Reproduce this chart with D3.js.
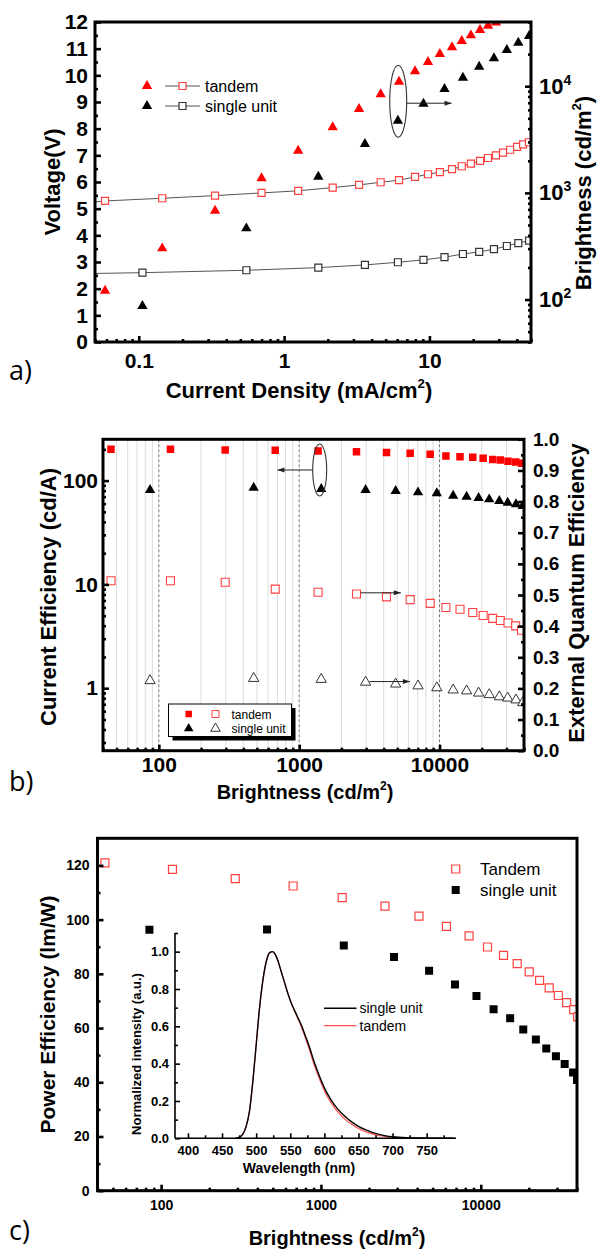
<!DOCTYPE html>
<html>
<head>
<meta charset="utf-8">
<script src="https://cdn.jsdelivr.net/npm/d3@7"></script>
<style>
  body { margin: 0; background: #fff; }
</style>
</head>
<body>
<div id="chart-area"></div>
<script>
// ---------- panel a) : voltage / brightness vs current density ----------
const aTandemJ = [0.0586, 0.145, 0.335, 0.70, 1.25, 2.16, 3.28, 4.62, 6.18, 7.96, 9.78, 11.8,
    14.3, 16.7, 19.3, 22.3, 25.3, 28.7, 32.1, 35.9, 40.1, 44.1, 48.4];
const aTandemV = [5.29, 5.39, 5.49, 5.59, 5.67, 5.79, 5.89, 5.99, 6.07, 6.19, 6.29, 6.37,
    6.48, 6.59, 6.69, 6.79, 6.90, 7.00, 7.10, 7.21, 7.32, 7.41, 7.49];
// brightness of the tandem, only for the first points (the rest leave the plot)
const aTandemL = [121, 302, 681, 1370, 2485, 4120, 6110, 8400, 11020, 13800, 16860, 20050,
    23170, 26550, 30000, 33650, 36900, 39500];
const aSingleJ = [0.106, 0.55, 1.72, 3.6, 6.07, 9.1, 12.7, 17, 22, 27.8, 34.1, 40.9, 48.5];
const aSingleV = [2.60, 2.69, 2.79, 2.89, 2.99, 3.08, 3.18, 3.30, 3.38, 3.48, 3.60, 3.71, 3.80];
const aSingleL = [87, 465, 1419, 2872, 4750, 6860, 9420, 12020, 15240, 18270, 21830, 25600, 29570];
const aStartJ = 0.05, aTandemV0 = 5.25, aSingleV0 = 2.57;
const aVoltTicks = [0, 1, 2, 3, 4, 5, 6, 7, 8, 9, 10, 11, 12];
const aJTicks = [0.1, 1, 10];
const aLTicks = [100, 1000, 10000];

// ---------- panel b) : efficiencies vs brightness ----------
const bTandemL = [45.6, 121, 297, 675, 1364, 2561, 4190, 6180, 8580, 11110, 14000, 17260,
    20460, 23940, 27120, 30780, 34900, 38400];
const bTandemCE = [200, 200, 197, 196, 193, 190, 187, 183, 179, 173, 170, 168, 164, 160, 158, 154, 151, 147];
const bTandemEQE = [0.546, 0.546, 0.541, 0.519, 0.509, 0.503, 0.494, 0.485, 0.473, 0.460, 0.454,
    0.444, 0.434, 0.425, 0.418, 0.410, 0.401, 0.387];
const bSingleL = [86.6, 474, 1436, 2973, 4870, 7030, 9570, 12510, 15600, 18990, 22600, 26680,
    30600, 35070, 39150];
const bSingleCE = [81.2, 85.5, 83, 81.2, 79.4, 77.1, 75.5, 71.6, 70, 68, 66, 63.6, 61.3, 59.1, 56.9];
const bSingleEQE = [0.225, 0.232, 0.229, 0.220, 0.214, 0.208, 0.202, 0.195, 0.192, 0.185, 0.180,
    0.173, 0.169, 0.163, 0.154];
const bCETicks = [1, 10, 100];
const bEQETicks = [0, 0.1, 0.2, 0.3, 0.4, 0.5, 0.6, 0.7, 0.8, 0.9, 1.0];
const bLTicks = [100, 1000, 10000];

// ---------- panel c) : power efficiency + EL spectra inset ----------
const cTandemL = [44.5, 117.8, 291, 670, 1359, 2514, 4104, 6100, 8450, 11020, 13880, 16900,
    20100, 23340, 26800, 30550, 34450, 38150, 40400];
const cTandemPE = [120.9, 118.5, 115.1, 112.4, 108.1, 105.0, 101.3, 97.5, 94.0, 89.9, 86.8, 83.8,
    80.7, 77.6, 74.8, 72.0, 69.4, 66.8, 64.1];
const cSingleL = [84.5, 460, 1390, 2865, 4750, 6900, 9400, 12030, 15270, 18450, 22120, 25700,
    29530, 33500, 37800, 40000];
const cSinglePE = [96.3, 96.4, 90.5, 86.2, 81.1, 76.1, 71.8, 66.9, 63.6, 59.5, 55.8, 52.5,
    49.6, 46.7, 43.6, 40.8];
const cPETicks = [0, 20, 40, 60, 80, 100, 120];
const cLTicks = [100, 1000, 10000];

const specWl = [470, 475, 480, 485, 490, 495, 500, 505, 510, 515, 520, 524, 528, 532, 537, 542,
    547, 552, 557, 562, 567, 572, 578, 585, 592, 600, 610, 620, 630, 640, 650, 660, 670, 680,
    690, 700, 720, 750, 790];
const specSingle = [0, 0.005, 0.02, 0.06, 0.14, 0.30, 0.50, 0.70, 0.85, 0.95, 0.995, 1.0, 0.985,
    0.95, 0.89, 0.83, 0.77, 0.72, 0.68, 0.64, 0.60, 0.55, 0.49, 0.41, 0.34, 0.27, 0.205, 0.155,
    0.118, 0.088, 0.064, 0.046, 0.032, 0.021, 0.013, 0.008, 0.003, 0.001, 0];
const specTandem = [0, 0.005, 0.02, 0.06, 0.14, 0.30, 0.50, 0.70, 0.85, 0.95, 0.995, 1.0, 0.985,
    0.95, 0.89, 0.83, 0.77, 0.72, 0.675, 0.635, 0.59, 0.54, 0.475, 0.395, 0.325, 0.255, 0.19, 0.14,
    0.103, 0.075, 0.052, 0.036, 0.024, 0.015, 0.009, 0.005, 0.002, 0.0005, 0];
const specWlTicks = [400, 450, 500, 550, 600, 650, 700, 750];
const specITicks = [0, 0.2, 0.4, 0.6, 0.8, 1.0];

// ---------------------------------------------------------------------
const FONT = "'Liberation Sans', Arial, sans-serif";
const RED = '#ff0000';
const PINK = '#ff4040';

const svg = d3.select('#chart-area')
    .append('svg')
    .attr('width', 600)
    .attr('height', 1250)
    .style('font-family', FONT);

const defs = svg.append('defs');
defs.append('marker')
    .attr('id', 'arrow')
    .attr('viewBox', '0 0 10 10')
    .attr('refX', 10).attr('refY', 5)
    .attr('markerWidth', 9).attr('markerHeight', 7)
    .attr('markerUnits', 'userSpaceOnUse')
    .attr('orient', 'auto')
    .append('path').attr('d', 'M0,1.5 L10,5 L0,8.5 Z').attr('fill', '#222');

function logMinor(lo, hi) {
    const out = [];
    for (let e = Math.floor(Math.log10(lo)); e <= Math.ceil(Math.log10(hi)); e++) {
        for (let k = 2; k <= 9; k++) {
            const v = +(k * Math.pow(10, e)).toPrecision(6);
            if (v >= lo * 0.999 && v <= hi * 1.001) out.push(v);
        }
    }
    return out;
}

// inward ticks, major + minor
function drawAxis(g, axisFn, scale, o) {
    const a = axisFn(scale)
        .tickValues(o.ticks)
        .tickSizeInner(-(o.len || 6))
        .tickSizeOuter(0)
        .tickPadding(o.pad)
        .tickFormat(o.fmt || (d => d));
    const ga = g.append('g').attr('transform', o.tr || null).call(a);
    ga.select('.domain').remove();
    ga.selectAll('.tick line').attr('stroke', '#000').attr('stroke-width', o.tw || 2.6);
    ga.selectAll('.tick text')
        .attr('font-family', FONT)
        .attr('font-weight', 'bold')
        .attr('font-size', o.fs)
        .attr('fill', '#000');
    if (o.minor) {
        const m = axisFn(scale).tickValues(o.minor).tickSizeInner(-(o.mlen || 3))
            .tickSizeOuter(0).tickFormat('');
        const gm = g.append('g').attr('transform', o.tr || null).call(m);
        gm.select('.domain').remove();
        gm.selectAll('.tick line').attr('stroke', '#000').attr('stroke-width', o.mtw || 2.6);
    }
    return ga;
}

function supText(sel, before, sup, after, fs) {
    sel.append('tspan').text(before);
    sel.append('tspan').attr('font-size', fs * 0.6).attr('dy', -fs * 0.45).text(sup);
    sel.append('tspan').attr('dy', fs * 0.45).text(after);
}

function clipFor(id, x0, y0, x1, y1) {
    defs.append('clipPath').attr('id', id)
        .append('rect').attr('x', x0).attr('y', y0).attr('width', x1 - x0).attr('height', y1 - y0);
    return `url(#${id})`;
}

const sqPath = s => `M${-s / 2},${-s / 2}h${s}v${s}h${-s}Z`;
const triPath = d3.symbol(d3.symbolTriangle, 46)();
const triPathSmall = d3.symbol(d3.symbolTriangle, 40)();

// ===================== panel a =====================
{
    const L = 95, R = 531, T = 22, B = 342;
    const x = d3.scaleLog().domain([0.05, 50]).range([L, R]);
    const y = d3.scaleLinear().domain([0, 12]).range([B, T]);
    const y2 = d3.scaleLog().domain([40, 40000]).range([B, T]);
    const g = svg.append('g');
    const data = g.append('g').attr('clip-path', clipFor('clipA', L, T, R, B));

    const lineV = d3.line().x(d => x(d[0])).y(d => y(d[1]));
    const tandemPts = [[aStartJ, aTandemV0]].concat(aTandemJ.map((j, i) => [j, aTandemV[i]]));
    const singlePts = [[aStartJ, aSingleV0]].concat(aSingleJ.map((j, i) => [j, aSingleV[i]]));
    data.append('path').attr('d', lineV(tandemPts)).attr('fill', 'none').attr('stroke', '#555').attr('stroke-width', 1);
    data.append('path').attr('d', lineV(singlePts)).attr('fill', 'none').attr('stroke', '#555').attr('stroke-width', 1);

    data.selectAll('.ts').data(aTandemJ).enter().append('path')
        .attr('d', sqPath(7))
        .attr('transform', (d, i) => `translate(${x(d)},${y(aTandemV[i])})`)
        .attr('fill', '#fff').attr('stroke', PINK).attr('stroke-width', 1.2);
    data.selectAll('.ss').data(aSingleJ).enter().append('path')
        .attr('d', sqPath(7))
        .attr('transform', (d, i) => `translate(${x(d)},${y(aSingleV[i])})`)
        .attr('fill', '#fff').attr('stroke', '#333').attr('stroke-width', 1.2);

    data.selectAll('.tt').data(aTandemL).enter().append('path')
        .attr('d', triPath)
        .attr('transform', (d, i) => `translate(${x(aTandemJ[i])},${y2(d)})`)
        .attr('fill', RED);
    data.selectAll('.st').data(aSingleL).enter().append('path')
        .attr('d', triPath)
        .attr('transform', (d, i) => `translate(${x(aSingleJ[i])},${y2(d)})`)
        .attr('fill', '#000');

    // ellipse + arrow pointing to the right axis
    const ex = x(6.1), ey = (y2(aTandemL[8]) + y2(aSingleL[4])) / 2;
    g.append('ellipse').attr('cx', ex).attr('cy', ey).attr('rx', 8.5).attr('ry', 36)
        .attr('fill', 'none').attr('stroke', '#333').attr('stroke-width', 1.1);
    g.append('line').attr('x1', ex + 8.5).attr('x2', x(14.2)).attr('y1', ey + 2).attr('y2', ey + 2)
        .attr('stroke', '#222').attr('stroke-width', 1).attr('marker-end', 'url(#arrow)');

    // legend
    const lg = g.append('g');
    [['tandem', RED, PINK, 86], ['single unit', '#000', '#333', 106]].forEach(([t, c, sc, ly]) => {
        lg.append('path').attr('d', triPath).attr('transform', `translate(147,${ly})`).attr('fill', c);
        lg.append('line').attr('x1', 165).attr('x2', 200).attr('y1', ly).attr('y2', ly)
            .attr('stroke', '#555').attr('stroke-width', 1);
        lg.append('path').attr('d', sqPath(7)).attr('transform', `translate(182.5,${ly})`)
            .attr('fill', '#fff').attr('stroke', sc).attr('stroke-width', 1.2);
        lg.append('text').attr('x', 205).attr('y', ly + 5.5).attr('font-size', 16).text(t);
    });

    drawAxis(g, d3.axisLeft, y, {ticks: aVoltTicks, tr: `translate(${L},0)`, pad: 7, fs: 21,
        minor: d3.range(0.5, 12, 1)});
    drawAxis(g, d3.axisBottom, x, {ticks: aJTicks, tr: `translate(0,${B})`, pad: 11, fs: 21,
        fmt: d => d, minor: logMinor(0.05, 50)});
    const gr = drawAxis(g, d3.axisRight, y2, {ticks: aLTicks, tr: `translate(${R},0)`, pad: 8, fs: 22,
        minor: logMinor(40, 40000)});
    gr.selectAll('.tick text').each(function (d) {
        const t = d3.select(this).text('10');
        t.append('tspan').attr('font-size', 14).attr('dy', -9).text(Math.round(Math.log10(d)));
    });

    g.append('rect').attr('x', L).attr('y', T).attr('width', R - L).attr('height', B - T)
        .attr('fill', 'none').attr('stroke', '#000').attr('stroke-width', 3);

    g.append('text').attr('transform', 'translate(60,182) rotate(-90)')
        .attr('text-anchor', 'middle').attr('font-weight', 'bold').attr('font-size', 22)
        .text('Voltage(V)');
    supText(g.append('text').attr('transform', 'translate(591,193) rotate(-90)')
        .attr('text-anchor', 'middle').attr('font-weight', 'bold').attr('font-size', 22),
        'Brightness (cd/m', '2', ')', 22);
    supText(g.append('text').attr('x', 299).attr('y', 398)
        .attr('text-anchor', 'middle').attr('font-weight', 'bold').attr('font-size', 22),
        'Current Density (mA/cm', '2', ')', 22);
    g.append('text').attr('x', 9).attr('y', 380).attr('font-family', "'Open Sans', sans-serif")
        .attr('font-size', 27).text('a)');
}

// ===================== panel b =====================
{
    const L = 103, R = 524, T = 439.3, B = 750.7;
    const x = d3.scaleLog().domain([40, 40000]).range([L, R]);
    const y = d3.scaleLog().domain([0.25, 250]).range([B, T]);
    const y2 = d3.scaleLinear().domain([0, 1]).range([B, T]);
    const g = svg.append('g');

    // vertical grid
    g.selectAll('.gmin').data(logMinor(40, 40000).filter(v => v > 40 && v < 40000)).enter().append('line')
        .attr('x1', d => x(d)).attr('x2', d => x(d)).attr('y1', T).attr('y2', B)
        .attr('stroke', '#dcdcdc').attr('stroke-width', 1);
    g.selectAll('.gmaj').data(bLTicks).enter().append('line')
        .attr('x1', d => x(d)).attr('x2', d => x(d)).attr('y1', T).attr('y2', B)
        .attr('stroke', '#777').attr('stroke-width', 1).attr('stroke-dasharray', '3,2');

    const data = g.append('g').attr('clip-path', clipFor('clipB', L, T, R, B));
    data.selectAll('.tce').data(bTandemL).enter().append('path')
        .attr('d', sqPath(7.5))
        .attr('transform', (d, i) => `translate(${x(d)},${y(bTandemCE[i])})`)
        .attr('fill', RED);
    data.selectAll('.teq').data(bTandemL).enter().append('path')
        .attr('d', sqPath(8))
        .attr('transform', (d, i) => `translate(${x(d)},${y2(bTandemEQE[i])})`)
        .attr('fill', '#fff').attr('stroke', PINK).attr('stroke-width', 1.1);
    data.selectAll('.sce').data(bSingleL).enter().append('path')
        .attr('d', triPath)
        .attr('transform', (d, i) => `translate(${x(d)},${y(bSingleCE[i])})`)
        .attr('fill', '#000');
    data.selectAll('.seq').data(bSingleL).enter().append('path')
        .attr('d', triPath)
        .attr('transform', (d, i) => `translate(${x(d)},${y2(bSingleEQE[i])})`)
        .attr('fill', '#fff').attr('stroke', '#333').attr('stroke-width', 1);

    // annotations
    const ex = x(1400), ey = (y(bTandemCE[4]) + y(bSingleCE[2])) / 2;
    g.append('ellipse').attr('cx', ex).attr('cy', ey).attr('rx', 7).attr('ry', 26)
        .attr('fill', 'none').attr('stroke', '#333').attr('stroke-width', 1.1);
    g.append('line').attr('x1', ex - 7).attr('x2', x(700)).attr('y1', ey).attr('y2', ey)
        .attr('stroke', '#222').attr('stroke-width', 1).attr('marker-end', 'url(#arrow)');
    g.append('line').attr('x1', x(bTandemL[5]) + 4).attr('x2', x(5300))
        .attr('y1', y2(0.507)).attr('y2', y2(0.507))
        .attr('stroke', '#222').attr('stroke-width', 1).attr('marker-end', 'url(#arrow)');
    g.append('line').attr('x1', x(bSingleL[3]) + 4).attr('x2', x(6150))
        .attr('y1', y2(0.222)).attr('y2', y2(0.222))
        .attr('stroke', '#222').attr('stroke-width', 1).attr('marker-end', 'url(#arrow)');

    // legend box with shadow
    const lx = 168.5, ly = 704, lw = 123, lh = 32.5;
    g.append('rect').attr('x', lx + 4).attr('y', ly + 4).attr('width', lw).attr('height', lh).attr('fill', '#000');
    g.append('rect').attr('x', lx).attr('y', ly).attr('width', lw).attr('height', lh)
        .attr('fill', '#fff').attr('stroke', '#000').attr('stroke-width', 1);
    g.append('path').attr('d', sqPath(6.5)).attr('transform', 'translate(188.7,714)').attr('fill', RED);
    g.append('path').attr('d', sqPath(7)).attr('transform', 'translate(215.5,714)')
        .attr('fill', '#fff').attr('stroke', PINK).attr('stroke-width', 1);
    g.append('path').attr('d', triPathSmall).attr('transform', 'translate(188.7,728.5)').attr('fill', '#000');
    g.append('path').attr('d', triPathSmall).attr('transform', 'translate(215.5,728.5)')
        .attr('fill', '#fff').attr('stroke', '#333').attr('stroke-width', 1);
    g.append('text').attr('x', 231.5).attr('y', 718.5).attr('font-size', 12).text('tandem');
    g.append('text').attr('x', 231.5).attr('y', 733).attr('font-size', 12).text('single unit');

    drawAxis(g, d3.axisLeft, y, {ticks: bCETicks, tr: `translate(${L},0)`, pad: 5, fs: 21,
        minor: logMinor(0.25, 250)});
    drawAxis(g, d3.axisRight, y2, {ticks: bEQETicks, tr: `translate(${R},0)`, pad: 9, fs: 19,
        fmt: d3.format('.1f'), minor: d3.range(0.05, 1, 0.1)});
    drawAxis(g, d3.axisBottom, x, {ticks: bLTicks, tr: `translate(0,${B})`, pad: 6, fs: 21,
        minor: logMinor(40, 40000)});

    g.append('rect').attr('x', L).attr('y', T).attr('width', R - L).attr('height', B - T)
        .attr('fill', 'none').attr('stroke', '#000').attr('stroke-width', 3);

    g.append('text').attr('transform', `translate(56,${(T + B) / 2 + 2}) rotate(-90)`)
        .attr('text-anchor', 'middle').attr('font-weight', 'bold').attr('font-size', 22)
        .text('Current Efficiency (cd/A)');
    g.append('text').attr('transform', `translate(584,${(T + B) / 2 - 2}) rotate(-90)`)
        .attr('text-anchor', 'middle').attr('font-weight', 'bold').attr('font-size', 22)
        .text('External Quantum Efficiency');
    supText(g.append('text').attr('x', 305).attr('y', 799)
        .attr('text-anchor', 'middle').attr('font-weight', 'bold').attr('font-size', 20),
        'Brightness (cd/m', '2', ')', 20);
    g.append('text').attr('x', 9).attr('y', 791).attr('font-family', "'Open Sans', sans-serif")
        .attr('font-size', 27).text('b)');
}

// ===================== panel c =====================
{
    const L = 97.5, R = 577, T = 838.3, B = 1190.7;
    const x = d3.scaleLog().domain([40, 40000]).range([L, R]);
    const y = d3.scaleLinear().domain([0, 130]).range([B, T]);
    const g = svg.append('g');
    const data = g.append('g').attr('clip-path', clipFor('clipC', L, T, R, B));

    data.selectAll('.ct').data(cTandemL).enter().append('path')
        .attr('d', sqPath(8))
        .attr('transform', (d, i) => `translate(${x(d)},${y(cTandemPE[i])})`)
        .attr('fill', '#fff').attr('stroke', PINK).attr('stroke-width', 1.2);
    data.selectAll('.cs').data(cSingleL).enter().append('path')
        .attr('d', sqPath(8))
        .attr('transform', (d, i) => `translate(${x(d)},${y(cSinglePE[i])})`)
        .attr('fill', '#000');

    // legend
    g.append('path').attr('d', sqPath(8)).attr('transform', 'translate(455.7,869)')
        .attr('fill', '#fff').attr('stroke', PINK).attr('stroke-width', 1.2);
    g.append('path').attr('d', sqPath(8)).attr('transform', 'translate(455.7,890)').attr('fill', '#000');
    g.append('text').attr('x', 480).attr('y', 875).attr('font-size', 17).text('Tandem');
    g.append('text').attr('x', 480).attr('y', 896).attr('font-size', 17).text('single unit');

    drawAxis(g, d3.axisLeft, y, {ticks: cPETicks, tr: `translate(${L},0)`, pad: 8, fs: 14,
        minor: [10, 30, 50, 70, 90, 110]});
    drawAxis(g, d3.axisBottom, x, {ticks: cLTicks, tr: `translate(0,${B})`, pad: 9, fs: 14,
        minor: logMinor(40, 40000)});

    g.append('rect').attr('x', L).attr('y', T).attr('width', R - L).attr('height', B - T)
        .attr('fill', 'none').attr('stroke', '#000').attr('stroke-width', 3);

    g.append('text').attr('transform', `translate(55,${(T + B) / 2}) rotate(-90)`)
        .attr('text-anchor', 'middle').attr('font-weight', 'bold').attr('font-size', 21)
        .text('Power Efficiency (lm/W)');
    supText(g.append('text').attr('x', 337).attr('y', 1245)
        .attr('text-anchor', 'middle').attr('font-weight', 'bold').attr('font-size', 20),
        'Brightness (cd/m', '2', ')', 20);
    g.append('text').attr('x', 9).attr('y', 1240).attr('font-family', "'Open Sans', sans-serif")
        .attr('font-size', 27).text('c)');

    // ---- inset: EL spectra ----
    const iL = 175, iR = 456, iT = 933, iB = 1138.3;
    const xi = d3.scaleLinear().domain([381, 793]).range([iL, iR]);
    const yi = d3.scaleLinear().domain([0, 1.1]).range([iB, iT]);
    const gi = g.append('g');
    const line = arr => d3.line().curve(d3.curveMonotoneX)
        .x((d, i) => xi(specWl[i])).y(d => yi(d))(arr);
    gi.append('path').attr('d', line(specTandem)).attr('fill', 'none')
        .attr('stroke', '#ff5050').attr('stroke-width', 1.2);
    gi.append('path').attr('d', line(specSingle)).attr('fill', 'none')
        .attr('stroke', '#000').attr('stroke-width', 1.4);

    drawAxis(gi, d3.axisLeft, yi, {ticks: specITicks, tr: `translate(${iL},0)`, pad: 6, fs: 13,
        len: 5, tw: 1.6, fmt: d3.format('.1f'), minor: [0.1, 0.3, 0.5, 0.7, 0.9, 1.1], mlen: 3, mtw: 1.6});
    drawAxis(gi, d3.axisBottom, xi, {ticks: specWlTicks, tr: `translate(0,${iB})`, pad: 7, fs: 13,
        len: 5, tw: 1.6, minor: [425, 475, 525, 575, 625, 675, 725, 775], mlen: 3, mtw: 1.6});
    gi.append('line').attr('x1', iL).attr('x2', iL).attr('y1', iT).attr('y2', iB)
        .attr('stroke', '#000').attr('stroke-width', 1.6);
    gi.append('line').attr('x1', iL).attr('x2', iR).attr('y1', iB).attr('y2', iB)
        .attr('stroke', '#000').attr('stroke-width', 1.6);

    gi.append('line').attr('x1', 324).attr('x2', 356.5).attr('y1', 1008.3).attr('y2', 1008.3)
        .attr('stroke', '#000').attr('stroke-width', 1.4);
    gi.append('line').attr('x1', 324).attr('x2', 356.5).attr('y1', 1025.7).attr('y2', 1025.7)
        .attr('stroke', '#ff5050').attr('stroke-width', 1.2);
    gi.append('text').attr('x', 359.5).attr('y', 1013).attr('font-size', 14).text('single unit');
    gi.append('text').attr('x', 359.5).attr('y', 1030.5).attr('font-size', 14).text('tandem');

    gi.append('text').attr('transform', 'translate(141,1054) rotate(-90)')
        .attr('text-anchor', 'middle').attr('font-weight', 'bold').attr('font-size', 13)
        .text('Normalized intensity (a.u.)');
    gi.append('text').attr('x', 299).attr('y', 1173)
        .attr('text-anchor', 'middle').attr('font-weight', 'bold').attr('font-size', 14)
        .text('Wavelength (nm)');
}
</script>
</body>
</html>
